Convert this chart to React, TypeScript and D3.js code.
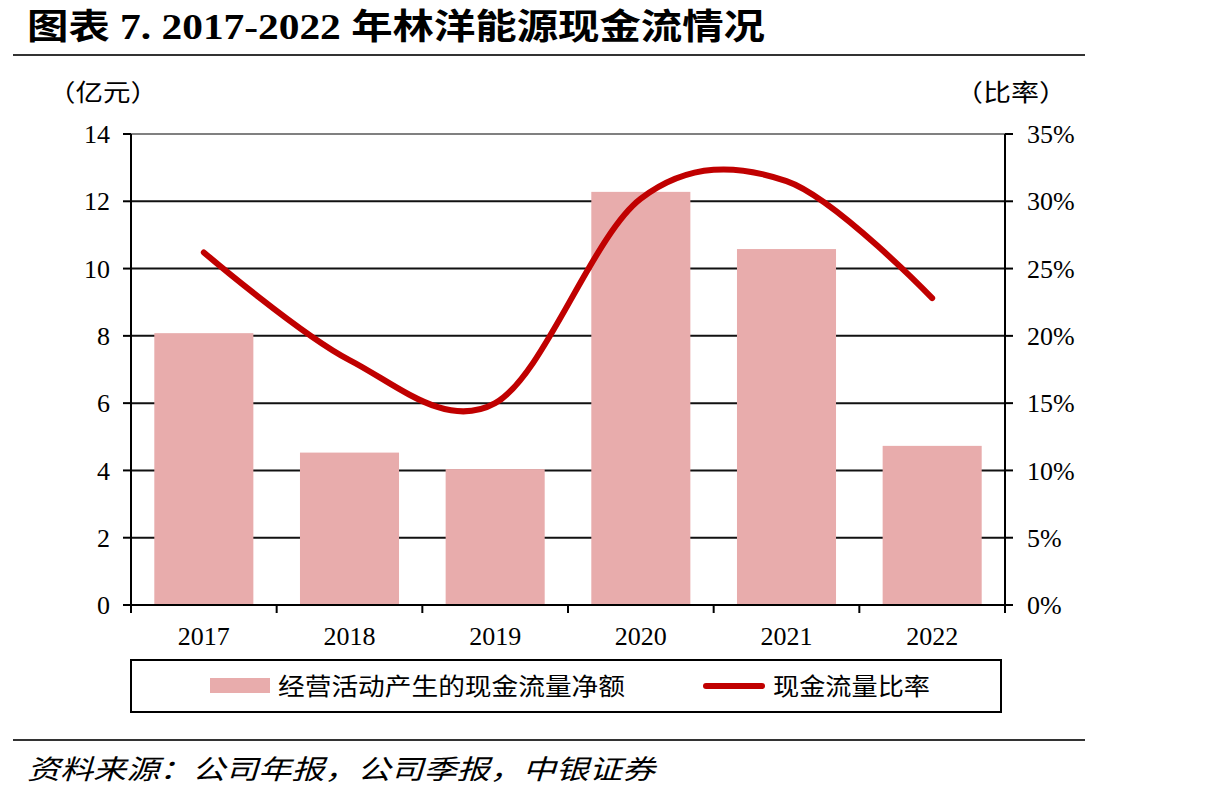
import React, { useEffect, useRef } from "react";
import * as d3 from "d3";

const categories = ["2017", "2018", "2019", "2020", "2021", "2022"];
const cashFlow = [8.08, 4.53, 4.04, 12.28, 10.58, 4.73];
const cashRatio = [0.262, 0.182, 0.150, 0.302, 0.315, 0.228];
const leftTicks = [0, 2, 4, 6, 8, 10, 12, 14];
const rightTicks = [0, 0.05, 0.1, 0.15, 0.2, 0.25, 0.3, 0.35];

const W = 1209;
const H = 799;
const FONT = "'Liberation Serif', 'Times New Roman', 'Noto Sans CJK SC', serif";
const CJK = "'Liberation Serif', 'Noto Sans CJK SC', sans-serif";

export default function App() {
  const ref = useRef<SVGSVGElement>(null);

  useEffect(() => {
    const svg = d3.select(ref.current);
    svg.selectAll("*").remove();

    const left = 131;
    const right = 1005;
    const top = 134;
    const bottom = 605;

    const x = d3.scaleBand().domain(categories).range([left, right]).paddingInner(0.32).paddingOuter(0.16);
    const xc = d3.scaleBand().domain(categories).range([left, right]);
    const yL = d3.scaleLinear().domain([0, 14]).range([bottom, top]);
    const yR = d3.scaleLinear().domain([0, 0.35]).range([bottom, top]);

    // Title
    svg.append("text").attr("x", 27).attr("y", 39).attr("font-family", CJK).attr("font-weight", "bold")
      .attr("font-size", 35).attr("fill", "#000")
      .attr("textLength", 738).attr("lengthAdjust", "spacingAndGlyphs")
      .text("图表 7. 2017-2022 年林洋能源现金流情况");
    svg.append("line").attr("x1", 13).attr("x2", 1085).attr("y1", 55).attr("y2", 55)
      .attr("stroke", "#333").attr("stroke-width", 2);

    // Unit labels
    svg.append("text").attr("x", 48).attr("y", 101).attr("font-family", CJK).attr("font-size", 24)
      .attr("textLength", 110).attr("lengthAdjust", "spacingAndGlyphs").text("（亿元）");
    svg.append("text").attr("x", 955).attr("y", 101).attr("font-family", CJK).attr("font-size", 24)
      .attr("textLength", 112).attr("lengthAdjust", "spacingAndGlyphs").text("（比率）");

    // Gridlines
    const g = svg.append("g");
    leftTicks.forEach((t) => {
      if (t === 0) return;
      g.append("line").attr("x1", left).attr("x2", right).attr("y1", yL(t)).attr("y2", yL(t))
        .attr("stroke", t === 14 ? "#808080" : "#111").attr("stroke-width", 2);
    });

    // Bars
    svg.append("g").selectAll("rect").data(categories).join("rect")
      .attr("x", (d) => x(d)!)
      .attr("width", x.bandwidth())
      .attr("y", (d, i) => yL(cashFlow[i]))
      .attr("height", (d, i) => yL(0) - yL(cashFlow[i]))
      .attr("fill", "#E8ACAC");

    // Axes
    const ax = svg.append("g").attr("stroke", "#000").attr("stroke-width", 2);
    ax.append("line").attr("x1", left).attr("x2", left).attr("y1", top).attr("y2", bottom + 8);
    ax.append("line").attr("x1", right).attr("x2", right).attr("y1", top).attr("y2", bottom + 8);
    ax.append("line").attr("x1", left - 8).attr("x2", right + 8).attr("y1", bottom).attr("y2", bottom);
    leftTicks.forEach((t) => {
      ax.append("line").attr("x1", left - 8).attr("x2", left).attr("y1", yL(t)).attr("y2", yL(t));
    });
    rightTicks.forEach((t) => {
      ax.append("line").attr("x1", right).attr("x2", right + 8).attr("y1", yR(t)).attr("y2", yR(t));
    });
    categories.forEach((c) => {
      const xx = xc(c)! + xc.bandwidth();
      ax.append("line").attr("x1", xx).attr("x2", xx).attr("y1", bottom).attr("y2", bottom + 8);
    });

    // Tick labels
    svg.append("g").selectAll("text").data(leftTicks).join("text")
      .attr("x", 110).attr("y", (d) => yL(d)).attr("dy", "0.35em").attr("text-anchor", "end")
      .attr("font-family", FONT).attr("font-size", 26).text((d) => String(d));
    svg.append("g").selectAll("text").data(rightTicks).join("text")
      .attr("x", 1027).attr("y", (d) => yR(d)).attr("dy", "0.35em").attr("text-anchor", "start")
      .attr("font-family", FONT).attr("font-size", 26).text((d) => d3.format(".0%")(d));
    svg.append("g").selectAll("text").data(categories).join("text")
      .attr("x", (d) => xc(d)! + xc.bandwidth() / 2).attr("y", 645).attr("text-anchor", "middle")
      .attr("font-family", FONT).attr("font-size", 26).text((d) => d);

    // Line
    const line = d3.line<number>()
      .x((d, i) => xc(categories[i])! + xc.bandwidth() / 2)
      .y((d) => yR(d))
      .curve(d3.curveCardinal.tension(0));
    svg.append("path").datum(cashRatio).attr("d", line).attr("fill", "none")
      .attr("stroke", "#C00000").attr("stroke-width", 6).attr("stroke-linecap", "round");

    // Legend
    svg.append("rect").attr("x", 131).attr("y", 660).attr("width", 870).attr("height", 52)
      .attr("fill", "none").attr("stroke", "#000").attr("stroke-width", 2);
    svg.append("rect").attr("x", 210).attr("y", 678).attr("width", 60).attr("height", 15).attr("fill", "#E8ACAC");
    svg.append("text").attr("x", 278).attr("y", 695).attr("font-family", CJK).attr("font-size", 24)
      .attr("textLength", 347).attr("lengthAdjust", "spacingAndGlyphs")
      .text("经营活动产生的现金流量净额");
    svg.append("line").attr("x1", 706).attr("x2", 762).attr("y1", 686).attr("y2", 686)
      .attr("stroke", "#C00000").attr("stroke-width", 6).attr("stroke-linecap", "round");
    svg.append("text").attr("x", 773).attr("y", 695).attr("font-family", CJK).attr("font-size", 24)
      .attr("textLength", 157).attr("lengthAdjust", "spacingAndGlyphs")
      .text("现金流量比率");

    // Source
    svg.append("line").attr("x1", 13).attr("x2", 1085).attr("y1", 740).attr("y2", 740)
      .attr("stroke", "#333").attr("stroke-width", 2);
    svg.append("text").attr("x", 27).attr("y", 779).attr("font-family", CJK).attr("font-size", 27)
      .attr("font-style", "italic")
      .attr("textLength", 628).attr("lengthAdjust", "spacingAndGlyphs")
      .text("资料来源：公司年报，公司季报，中银证券");
  }, []);

  return (
    <svg ref={ref} width={W} height={H}
      style={{ position: "absolute", left: 0, top: 0, background: "#fff" }} />
  );
}
